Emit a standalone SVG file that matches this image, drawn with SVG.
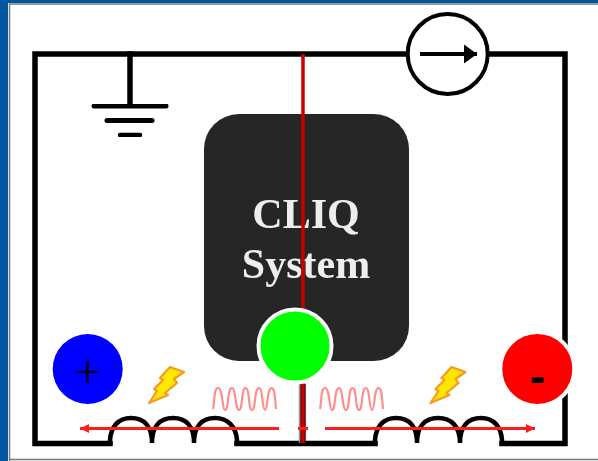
<svg xmlns="http://www.w3.org/2000/svg" width="598" height="461" viewBox="0 0 598 461">
<style>
.wire{fill:none;stroke:#000;stroke-width:5.500;stroke-linecap:square;stroke-linejoin:miter}
.coil{fill:none;stroke:#000;stroke-width:4.500;stroke-linejoin:miter}
.bar{stroke:#000;stroke-linecap:round}
.wave{fill:none;stroke:#ff8f8f;stroke-width:2.200}
.cur{stroke:#ff1c1c;stroke-width:3;fill:none}
.bolt{fill:#ffe800;stroke:#f59a20;stroke-width:2.200;stroke-linejoin:round}
.soft{filter:url(#soft)}
.label{font-family:"Liberation Serif","Times New Roman",serif;font-weight:700;font-size:42px;fill:#eeeeee;text-anchor:middle}
.sign{fill:#000;text-anchor:middle}
</style>
<defs>
<filter id="soft" x="-5%" y="-5%" width="110%" height="110%"><feGaussianBlur stdDeviation="0.6"/></filter>
<marker id="curHead" markerUnits="userSpaceOnUse" markerWidth="10" markerHeight="10" refX="9" refY="5" orient="auto"><path d="M0 0.500L9 5L0 9.500Z" fill="#ff1c1c"/></marker>
<marker id="srcHead" markerUnits="userSpaceOnUse" markerWidth="14" markerHeight="20" refX="13" refY="10" orient="auto"><path d="M0 0.500L13 10L0 19.500Z" fill="#000"/></marker>
</defs>
<rect width="598" height="461" fill="#fff"/>
<g id="frame">
<rect x="0" y="0" width="8" height="461" fill="#00569f"/>
<rect x="0" y="0" width="598" height="3" fill="#00569f"/>
<path d="M9.500 461V4H598" fill="none" stroke="#777" stroke-width="1.500"/>
<path d="M9 459.500H598" fill="none" stroke="#777" stroke-width="1.500"/>
</g>
<g id="cliq-system" class="soft">
<rect x="204" y="114" width="205" height="247" rx="35" ry="35" fill="#262626"/>
<text class="label" x="306" y="228">CLIQ</text>
<text class="label" x="306" y="278">System</text>
</g>
<g id="connectors" class="soft">
<path class="wire" d="M407 54H35V443.500H110M237 443.500H375M502 443.500H565V54H488"/>
<path class="wire" d="M130 54V105"/>
<path class="coil" d="M110 445V440C111 427 118 418 131 418C144 418 152 426 152 443C152 426 160 418 173 418C186 418 194 426 194 443C194 426 202 418 215 418C228 418 236 427 237 440V445"/>
<path class="coil" d="M375 445V440C376 427 383 418 396 418C409 418 417 426 417 443C417 426 425 418 438 418C451 418 460 426 460 443C460 426 468 418 481 418C494 418 501 427 502 440V445"/>
<path d="M299.500 384V443" fill="none" stroke="#999" stroke-width="1.500"/>
<path d="M303 384V443" fill="none" stroke="#3a0000" stroke-width="5.500"/>
<path d="M303 54V443" fill="none" stroke="#c80000" stroke-width="3.500"/>
<path class="cur" d="M279 428.500H80" marker-end="url(#curHead)"/>
<path class="cur" d="M325 428.500H535" marker-end="url(#curHead)"/>
<path class="cur" d="M298 428.500H308"/>
</g>
<g id="ground" class="soft">
<path class="bar" stroke-width="5" d="M94 106H166"/>
<path class="bar" stroke-width="5" d="M107 120.500H152"/>
<path class="bar" stroke-width="4.500" d="M120 135H140"/>
</g>
<g id="current-source" class="soft">
<circle cx="447.700" cy="54" r="40" fill="#fff" stroke="#000" stroke-width="4"/>
<path d="M420 54H477" fill="none" stroke="#000" stroke-width="4" marker-end="url(#srcHead)"/>
</g>
<g id="spark-left" class="soft">
<path class="bolt" d="M170 367L184 372L174 379L177 383L165 393L168 395L149 403L157 391L154 389L163 380L160 378Z"/>
</g>
<g id="spark-right" class="soft">
<path class="bolt" transform="translate(281.500 0)" d="M170 367L184 372L174 379L177 383L165 393L168 395L149 403L157 391L154 389L163 380L160 378Z"/>
</g>
<g id="wave-left" class="soft">
<path class="wave" d="M213 409C215 398 214 388 218 388C223 388 222 410 225 410C229 410 227 388 232 388C236 388 235 410 239 410C243 410 241 388 245.500 388C250 388 248 410 252 410C256 410 254 388 259 388C263 388 262 410 265 410C268 410 267 388 271.500 388C275 388 275 398 276 409"/>
</g>
<g id="wave-right" class="soft">
<path class="wave" transform="translate(107 0)" d="M213 409C215 398 214 388 218 388C223 388 222 410 225 410C229 410 227 388 232 388C236 388 235 410 239 410C243 410 241 388 245.500 388C250 388 248 410 252 410C256 410 254 388 259 388C263 388 262 410 265 410C268 410 267 388 271.500 388C275 388 275 398 276 409"/>
</g>
<g id="terminal-plus">
<circle cx="87.700" cy="369" r="35" fill="#0000ff"/>
<text class="sign" x="87.700" y="386.500" font-size="46" font-family="'Liberation Serif','Times New Roman',serif">+</text>
</g>
<g id="terminal-minus">
<circle cx="537.300" cy="369" r="37" fill="#ff0000" stroke="#fff" stroke-width="4"/>
<text class="sign" x="537.300" y="392" font-size="46" font-weight="700" font-family="'Liberation Sans',Arial,sans-serif">-</text>
</g>
<g id="terminal-mid">
<circle cx="295" cy="346" r="36.500" fill="#00ff00" stroke="#fff" stroke-width="4"/>
</g>
</svg>
